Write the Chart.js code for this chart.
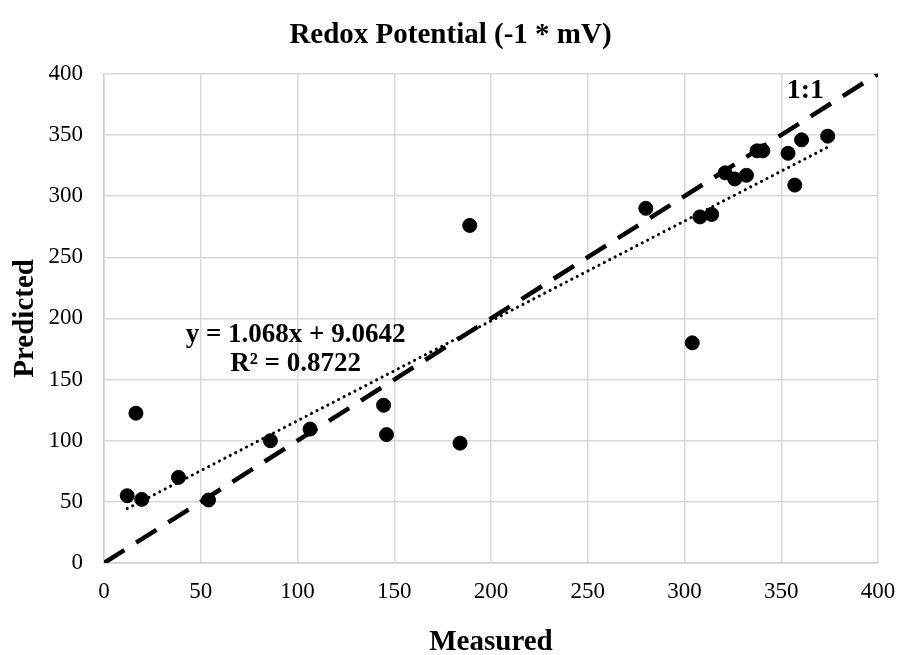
<!DOCTYPE html>
<html>
<head>
<meta charset="utf-8">
<script src="https://cdn.jsdelivr.net/npm/chart.js@4.4.0/dist/chart.umd.min.js"></script>
<style>
  html, body { margin: 0; padding: 0; background: #fff; }
  #wrap { width: 901px; height: 655px; }
</style>
</head>
<body>
<div id="wrap"><canvas id="myChart" width="901" height="655"></canvas></div>
<script>
// valores
const measured = [12, 19.5, 16.5, 38.5, 54, 86, 106.5, 144.5, 146, 184, 189, 280, 304,
    308, 314, 321, 326, 332, 337.5, 340.5, 353.5, 357, 360.5, 374];
const predicted = [55, 52, 122.5, 70, 51.5, 100, 109.5, 129, 105, 98, 276, 290, 180,
    283, 285, 319, 314, 317, 337, 337, 335, 309, 346, 349];

// linha de tendência (pontas) e linha 1:1
const trendX = [12, 374];
const trendY = [44.5, 340];
const oneToOneX = [0, 400];
const oneToOneY = [0, 400];

const xTicks = [0, 50, 100, 150, 200, 250, 300, 350, 400];
const yTicks = [0, 50, 100, 150, 200, 250, 300, 350, 400];

const chartTitle = 'Redox Potential (-1 * mV)';
const xTitle = 'Measured';
const yTitle = 'Predicted';
const eqLines = ['y = 1.068x + 9.0642', 'R² = 0.8722'];
const lineLabel = '1:1';

const serif = "'Liberation Serif', 'Times New Roman', serif";

function toXY(xs, ys) {
    return xs.map((x, i) => ({ x: x, y: ys[i] }));
}

// textos soltos dentro da área do gráfico
const textos = {
    id: 'textos',
    afterDatasetsDraw(chart) {
        const ctx = chart.ctx;
        const sx = chart.scales.x;
        const sy = chart.scales.y;
        ctx.save();
        ctx.fillStyle = '#000';
        ctx.textAlign = 'center';
        ctx.textBaseline = 'middle';
        ctx.font = 'bold 27px ' + serif;
        ctx.fillText(eqLines[0], sx.getPixelForValue(99), sy.getPixelForValue(186));
        ctx.fillText(eqLines[1], sx.getPixelForValue(99), sy.getPixelForValue(163));
        ctx.font = 'bold 28px ' + serif;
        ctx.fillText(lineLabel, sx.getPixelForValue(362.5), sy.getPixelForValue(386.5));
        ctx.restore();
    }
};

const ctx = document.getElementById('myChart').getContext('2d');

const config = {
    type: 'scatter',
    data: {
        datasets: [
            {
                label: '1:1',
                data: toXY(oneToOneX, oneToOneY),
                showLine: true,
                borderColor: '#000',
                borderWidth: 4.5,
                borderDash: [24, 14],
                pointRadius: 0,
                order: 3
            },
            {
                label: 'Tendência',
                data: toXY(trendX, trendY),
                showLine: true,
                borderColor: '#000',
                borderWidth: 3,
                borderDash: [0.1, 6],
                borderCapStyle: 'round',
                pointRadius: 0,
                order: 2
            },
            {
                label: 'Pontos',
                data: toXY(measured, predicted),
                backgroundColor: '#000',
                borderColor: '#000',
                pointRadius: 7,
                pointHoverRadius: 7,
                order: 1
            }
        ]
    },
    options: {
        responsive: false,
        animation: false,
        layout: {
            padding: { left: 0, right: 0, top: 0, bottom: 0 }
        },
        scales: {
            x: {
                type: 'linear',
                min: 0,
                max: 400,
                afterBuildTicks: (s) => { s.ticks = xTicks.map(v => ({ value: v })); },
                afterFit: (s) => {
                    s.height = 92;
                    s.paddingLeft = 0;
                    s.paddingRight = 23;
                },
                grid: { color: '#d9d9d9', lineWidth: 1.5, drawTicks: false },
                border: { color: '#d0d0d0', width: 1.5 },
                ticks: {
                    color: '#000',
                    padding: 15,
                    font: { family: serif, size: 23 }
                },
                title: {
                    display: true,
                    text: xTitle,
                    color: '#000',
                    font: { family: serif, size: 29, weight: 'bold' },
                    padding: { top: 0, bottom: -5 }
                }
            },
            y: {
                type: 'linear',
                min: 0,
                max: 400,
                afterBuildTicks: (s) => { s.ticks = yTicks.map(v => ({ value: v })); },
                afterFit: (s) => { s.width = 104; },
                grid: { color: '#d9d9d9', lineWidth: 1.5, drawTicks: false },
                border: { color: '#d0d0d0', width: 1.5 },
                ticks: {
                    color: '#000',
                    padding: 21,
                    font: { family: serif, size: 23 }
                },
                title: {
                    display: true,
                    text: yTitle,
                    color: '#000',
                    font: { family: serif, size: 29, weight: 'bold' },
                    padding: { top: 8, bottom: 0 }
                }
            }
        },
        plugins: {
            legend: { display: false },
            tooltip: { enabled: false },
            title: {
                display: true,
                text: chartTitle,
                color: '#000',
                font: { family: serif, size: 29, weight: 'bold' },
                padding: { top: 18, bottom: 21 }
            }
        }
    },
    plugins: [textos]
};

const myChart = new Chart(ctx, config);
</script>
</body>
</html>
